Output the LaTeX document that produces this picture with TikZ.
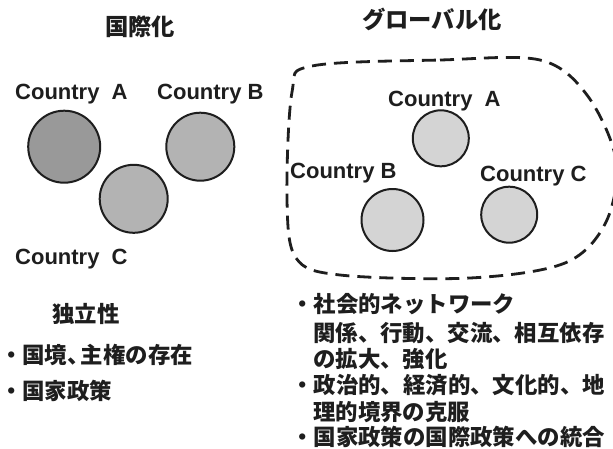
\documentclass[tikz,border=0pt]{standalone}
\usepackage{fontspec}
\setmainfont{Liberation Sans}
\newfontfamily\jp{Noto Sans CJK JP}
\definecolor{ink}{HTML}{1E1E1E}
\definecolor{fillA}{HTML}{999999}
\definecolor{fillB}{HTML}{B3B3B3}
\definecolor{fillR}{HTML}{D4D4D4}
\begin{document}
\begin{tikzpicture}[x=1pt,y=-1pt,
  lab/.style={font=\fontsize{22}{26}\selectfont\bfseries, inner sep=0pt, anchor=base west, text=ink},
  jtxt/.style={font=\fontsize{22.4}{26}\selectfont\jp\bfseries, inner sep=0pt, anchor=west, text=ink},
  jtitle/.style={font=\fontsize{23.3}{27}\selectfont\jp\bfseries, inner sep=0pt, text=ink},
  ctry/.style={circle, draw=ink, line width=2pt, inner sep=0pt, minimum size=#1},
  boundary/.style={draw=ink, line width=2.8pt, dash pattern=on 14pt off 8pt},
]
\useasboundingbox (0,0) rectangle (613,448);
\clip (0,0) rectangle (613,448);
\fill[white] (0,0) rectangle (613,448);

% titles
\node[jtitle] (tl) at (140,27) {国際化};
\node[jtitle] (tr) at (432,19) {グローバル化};

% left: internationalisation
\node[ctry=72pt, fill=fillA] (lA) at (64.2,146.7) {};
\node[ctry=68pt, fill=fillB] (lB) at (200.3,146.7) {};
\node[ctry=68pt, fill=fillB] (lC) at (133.7,198.8) {};
\node[lab] (lAl) at (15,99) {Country~~A};
\node[lab] (lBl) at (157,99) {Country B};
\node[lab] (lCl) at (15,264) {Country~~C};

% right: globalisation
\draw[boundary] plot[smooth cycle, tension=0.55] coordinates {
  (312,66) (440,60) (540,60) (587,95) (616,160) (606,222) (565,263)
  (470,278) (340,275) (296,258) (287,200) (292,92)};
\node[ctry=56pt, fill=fillR] (rA) at (440.8,138.3) {};
\node[ctry=62pt, fill=fillR] (rB) at (392.5,220) {};
\node[ctry=56pt, fill=fillR] (rC) at (509.2,214.7) {};
\node[lab] (rAl) at (388,106) {Country~~A};
\node[lab] (rBl) at (290,178) {Country B};
\node[lab] (rCl) at (480,181) {Country C};

% left text
\node[jtxt] (t1) at (52,314) {独立性};
\node[jtxt] (t2) at (0,355) {・国境、\kern-9pt 主権の存在};
\node[jtxt] (t3) at (0,391) {・国家政策};

% right text
\node[jtxt] (u1) at (291,304) {・社会的ネットワーク};
\node[jtxt] (u2) at (313,333) {関係、行動、交流、相互依存};
\node[jtxt] (u3) at (313,359) {の拡大、強化};
\node[jtxt] (u4) at (291,385) {・政治的、経済的、文化的、地};
\node[jtxt] (u5) at (313,412) {理的境界の克服};
\node[jtxt] (u6) at (291,437) {・国家政策の国際政策への統合};
\end{tikzpicture}
\end{document}
